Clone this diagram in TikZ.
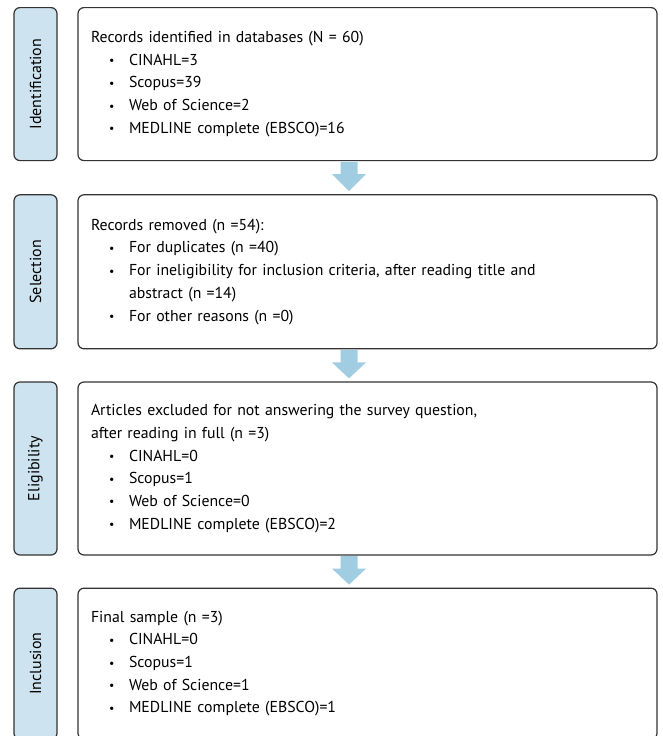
\documentclass[tikz,border=0pt]{standalone}
\usepackage{fontspec}
\setmainfont{PT Sans}
\usetikzlibrary{positioning,calc}
\definecolor{labelblue}{RGB}{205,227,239}
\definecolor{arrowblue}{RGB}{160,205,226}
\definecolor{edgegray}{RGB}{51,51,51}
\newcommand\itm[1]{\par\noindent\hangindent=38pt\hangafter=1\hspace*{18pt}\makebox[20pt][l]{\raisebox{0.5pt}{\scalebox{0.75}{\textbullet}}}#1}
\newcommand\stagearrow[2]{\path let \p1=(#1.south), \p2=(#2.north) in [fill=arrowblue]
  (340.5pt,\y1-0.6pt) -- (357.5pt,\y1-0.6pt) -- (357.5pt,\y1-13pt) -- (366pt,\y1-13pt)
  -- (349pt,\y2+3pt) -- (332pt,\y1-13pt) -- (340.5pt,\y1-13pt) -- cycle;}

\begin{document}
\begin{tikzpicture}[x=1pt,y=-1pt,node distance=33pt]
            \tikzset{box/.style={draw=edgegray,line width=1.2pt,rounded corners=6pt,text width=553pt,inner xsep=13pt,inner ysep=0pt,align=left,font=\fontsize{15.8pt}{22.7pt}\selectfont}}
            \tikzset{stage/.style={draw=edgegray,line width=1.2pt,rounded corners=6pt,fill=labelblue,rotate=90,minimum height=43pt,inner sep=0pt,font=\fontsize{16pt}{18pt}\selectfont}}
            \useasboundingbox (0,0) rectangle (662,736);
            \node[box,minimum height=153pt,anchor=north] (ident) at (367.5,7)
                {Records identified in databases (N = 60)\itm{CINAHL=3}\itm{Scopus=39}\itm{Web of Science=2}\itm{MEDLINE complete (EBSCO)=16}};
            \node[box,minimum height=154pt] (select) [below =of ident]
                {Records removed (n =54):\itm{For duplicates (n =40)}\itm{For ineligibility for inclusion criteria, after reading title and\newline abstract (n =14)}\itm{For other reasons (n =0)}};
            \node[box,minimum height=173pt] (elig) [below =32pt of select]
                {Articles excluded for not answering the survey question,\newline after reading in full (n =3)\itm{CINAHL=0}\itm{Scopus=1}\itm{Web of Science=0}\itm{MEDLINE complete (EBSCO)=2}};
            \node[box,minimum height=151pt] (incl) [below =32pt of elig]
                {Final sample (n =3)\itm{CINAHL=0}\itm{Scopus=1}\itm{Web of Science=1}\itm{MEDLINE complete (EBSCO)=1}};
            \node[stage,minimum width=153pt] (identlab) at ([xshift=-332pt]ident.center) {Identification};
            \node[stage,minimum width=154pt] (selectlab) at ([xshift=-332pt]select.center) {Selection};
            \node[stage,minimum width=173pt] (eliglab) at ([xshift=-332pt]elig.center) {Eligibility};
            \node[stage,minimum width=151pt] (incllab) at ([xshift=-332pt]incl.center) {Inclusion};
            \stagearrow{ident}{select}
            \stagearrow{select}{elig}
            \stagearrow{elig}{incl}
\end{tikzpicture}
\end{document}
